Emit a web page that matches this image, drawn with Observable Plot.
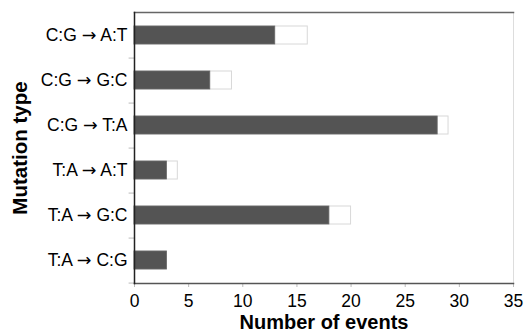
<!DOCTYPE html>
<html>
<head>
<meta charset="utf-8">
<script src="https://cdn.jsdelivr.net/npm/d3@7"></script>
<script src="https://cdn.jsdelivr.net/npm/@observablehq/plot@0.6"></script>
<style>
  html, body { margin: 0; padding: 0; background: #fff; }
</style>
</head>
<body>
<div id="chart"></div>
<script>
const categories = ["C:G \u2192 A:T", "C:G \u2192 G:C", "C:G \u2192 T:A", "T:A \u2192 A:T", "T:A \u2192 G:C", "T:A \u2192 C:G"];
const darkValues = [13, 7, 28, 3, 18, 3];
const totalValues = [16, 9, 29, 4, 20, 3];
const xTicks = [0, 5, 10, 15, 20, 25, 30, 35];
const xLabel = "Number of events";
const yLabel = "Mutation type";

const W = 526, H = 332;
const mL = 134, mR = 13, mT = 12, mB = 49;
const step = (H - mT - mB) / categories.length;

const chart = Plot.plot({
  width: W,
  height: H,
  marginLeft: mL,
  marginRight: mR,
  marginTop: mT,
  marginBottom: mB,
  style: { fontFamily: "'Liberation Sans', Arial, sans-serif", background: "#fff", color: "#000" },
  x: { domain: [0, 35], ticks: xTicks },
  y: { domain: categories, paddingInner: 0.6, paddingOuter: 0.3 },
  marks: [
    Plot.frame({ stroke: "#ddd" }),
    Plot.frame({ anchor: "top", stroke: "#666", strokeWidth: 1.5 }),
    Plot.barX(categories, { y: d => d, x1: 0, x2: (d, i) => totalValues[i], fill: "#fff", stroke: "#d8d8d8" }),
    Plot.barX(categories, { y: d => d, x1: 0, x2: (d, i) => darkValues[i], fill: "#545454", stroke: "#6a6a6a", strokeWidth: 0.8 }),
    Plot.ruleY(categories, { y: d => d, x1: -0.5, x2: 0, dy: step / 2, stroke: "#bbb" }),
    Plot.axisX({ ticks: xTicks, tickSize: 4, tickPadding: 7, fontSize: 17.5, stroke: "#bbb", fill: "#000", label: null }),
    Plot.axisY({ tickSize: 0, tickPadding: 7, fontSize: 17.5, fill: "#000", label: null }),
    Plot.frame({ anchor: "bottom", stroke: "#555", strokeWidth: 1.5 }),
    Plot.frame({ anchor: "left", stroke: "#222", strokeWidth: 1.5 }),
    Plot.text([xLabel], { text: d => d, frameAnchor: "bottom", textAnchor: "middle", dy: 45, lineAnchor: "bottom", fontSize: 20, fontWeight: "bold", fill: "#000" }),
    Plot.text([yLabel], { text: d => d, frameAnchor: "left", textAnchor: "middle", dx: -114, rotate: -90, fontSize: 20.5, fontWeight: "bold", fill: "#000" })
  ]
});

// render the arrow glyph with a font that has a full-size arrow
d3.select(chart).selectAll("text").each(function () {
  const t = this.textContent;
  if (t.includes("\u2192") && this.childElementCount === 0) {
    const parts = t.split("\u2192");
    const sel = d3.select(this);
    sel.text(null);
    sel.append("tspan").text(parts[0]);
    sel.append("tspan").attr("font-family", "'DejaVu Sans'").text("\u2192");
    sel.append("tspan").text(parts[1]);
  }
});
document.getElementById("chart").appendChild(chart);
</script>
</body>
</html>
